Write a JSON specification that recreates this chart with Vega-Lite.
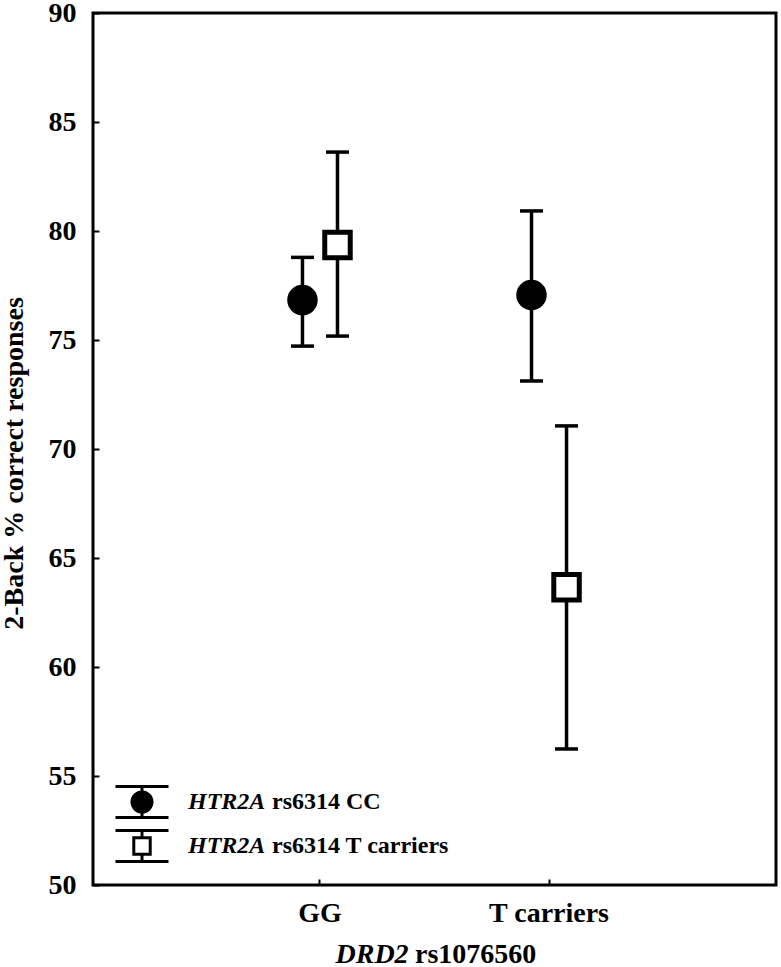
{
  "$schema": "https://vega.github.io/schema/vega-lite/v6.json",
  "width": 683,
  "height": 872,
  "autosize": "none",
  "padding": {"left": 93, "top": 13, "right": 5, "bottom": 82},
  "background": "white",
  "config": {
    "font": "Liberation Serif",
    "view": {"stroke": "black", "strokeWidth": 3},
    "axis": {
      "grid": false,
      "domain": false,
      "labelFont": "Liberation Serif",
      "labelFontSize": 28,
      "labelFontWeight": "bold",
      "labelColor": "black",
      "tickColor": "black",
      "tickWidth": 2,
      "tickSize": -6,
      "titleFont": "Liberation Serif",
      "titleFontSize": 28,
      "titleFontWeight": "bold",
      "titleColor": "black"
    }
  },
  "title": {
    "text": "rs1076560",
    "orient": "bottom",
    "anchor": "start",
    "frame": "group",
    "dx": 322,
    "dy": -5,
    "offset": 0,
    "baseline": "alphabetic",
    "font": "Liberation Serif",
    "fontSize": 28,
    "fontWeight": "bold",
    "color": "black"
  },
  "data": {
    "values": [
      {"DRD2": "GG", "HTR2A": "CC", "mean": 76.83, "lo": 74.72, "hi": 78.79},
      {"DRD2": "GG", "HTR2A": "T carriers", "mean": 79.36, "lo": 75.18, "hi": 83.62},
      {"DRD2": "T carriers", "HTR2A": "CC", "mean": 77.06, "lo": 73.12, "hi": 80.92},
      {"DRD2": "T carriers", "HTR2A": "T carriers", "mean": 63.66, "lo": 56.24, "hi": 71.06}
    ]
  },
  "encoding": {
    "x": {
      "field": "DRD2",
      "type": "nominal",
      "scale": {"domain": ["GG", "T carriers"], "paddingInner": 0, "paddingOuter": 0.491},
      "axis": {
        "title": "DRD2",
        "titleFontStyle": "italic",
        "labelAngle": 0,
        "labelPadding": 20,
        "titleX": 242,
        "titleY": 77,
        "titleAlign": "left",
        "titleBaseline": "alphabetic",
        "titleAnchor": null
      }
    },
    "xOffset": {
      "field": "HTR2A",
      "type": "nominal",
      "scale": {"domain": ["_a", "_b", "CC", "T carriers", "_c", "_d"], "paddingInner": 0, "paddingOuter": 0.27}
    }
  },
  "layer": [
    {
      "mark": {"type": "rule", "strokeWidth": 3.5, "color": "black"},
      "encoding": {
        "y": {
          "field": "lo",
          "type": "quantitative",
          "scale": {"domain": [50, 90], "nice": false, "zero": false},
          "axis": {
            "title": "2-Back % correct responses",
            "values": [50, 55, 60, 65, 70, 75, 80, 85, 90],
            "labelPadding": 23,
            "titleX": -71,
            "titleY": 450,
            "titleAngle": -90,
            "titleAlign": "center",
            "titleBaseline": "alphabetic",
            "titleAnchor": null
          }
        },
        "y2": {"field": "hi"}
      }
    },
    {
      "mark": {"type": "tick", "size": 23, "thickness": 3.5, "color": "black", "opacity": 1},
      "encoding": {"y": {"field": "lo", "type": "quantitative"}}
    },
    {
      "mark": {"type": "tick", "size": 23, "thickness": 3.5, "color": "black"},
      "encoding": {
        "y": {"field": "hi", "type": "quantitative"},
        "opacity": {
          "field": "HTR2A",
          "type": "nominal",
          "scale": {"range": [1, 1]},
          "legend": {
            "orient": "none",
            "legendX": 32,
            "legendY": 772,
            "title": null,
            "padding": 0,
            "labelExpr": "'rs6314 ' + datum.label",
            "labelFont": "Liberation Serif",
            "labelFontWeight": "bold",
            "labelFontSize": 24,
            "labelColor": "black",
            "labelOffset": 113,
            "labelLimit": 400,
            "symbolType": "M0,0",
            "symbolSize": 961,
            "symbolStrokeWidth": 3,
            "rowPadding": 15
          }
        }
      }
    },
    {
      "transform": [{"filter": "datum.HTR2A === 'CC'"}],
      "mark": {"type": "point", "shape": "circle", "size": 650, "filled": true, "fill": "black", "stroke": "black", "strokeWidth": 5, "opacity": 1},
      "encoding": {"y": {"field": "mean", "type": "quantitative"}}
    },
    {
      "transform": [{"filter": "datum.HTR2A === 'T carriers'"}],
      "mark": {"type": "point", "shape": "square", "size": 650, "filled": true, "fill": "white", "stroke": "black", "strokeWidth": 5, "opacity": 1},
      "encoding": {"y": {"field": "mean", "type": "quantitative"}}
    },
    {
      "transform": [{"filter": "false"}],
      "mark": {"type": "point", "strokeWidth": 3, "opacity": 1},
      "encoding": {
        "y": {"field": "mean", "type": "quantitative"},
        "stroke": {
          "field": "HTR2A",
          "type": "nominal",
          "scale": {"domain": ["CC", "T carriers"], "range": ["black", "black"]},
          "legend": {
            "orient": "none",
            "legendX": 32,
            "legendY": 772,
            "title": null,
            "padding": 0,
            "labelExpr": "'HTR2A'",
            "labelFont": "Liberation Serif",
            "labelFontStyle": "italic",
            "labelFontWeight": "bold",
            "labelFontSize": 24,
            "labelColor": "black",
            "labelOffset": 29,
            "labelLimit": 400,
            "symbolSize": 961,
            "symbolStrokeWidth": 3,
            "rowPadding": 0
          }
        },
        "fill": {
          "field": "HTR2A",
          "type": "nominal",
          "scale": {"domain": ["CC", "T carriers"], "range": ["black", "white"]},
          "legend": {
            "orient": "none",
            "legendX": 32,
            "legendY": 772,
            "title": null,
            "padding": 0,
            "labelExpr": "'HTR2A'",
            "labelFont": "Liberation Serif",
            "labelFontStyle": "italic",
            "labelFontWeight": "bold",
            "labelFontSize": 24,
            "labelColor": "black",
            "labelOffset": 29,
            "labelLimit": 400,
            "symbolSize": 961,
            "symbolStrokeWidth": 3,
            "rowPadding": 0
          }
        },
        "shape": {
          "field": "HTR2A",
          "type": "nominal",
          "scale": {
            "domain": ["CC", "T carriers"],
            "range": [
              "M-1.71,-1H1.71M-1.71,1H1.71M0,-1V1M0.645,0A0.645,0.645,0,1,1,-0.645,0A0.645,0.645,0,1,1,0.645,0Z",
              "M-1.71,-1H1.71M-1.71,1H1.71M0,-1V-0.53M0,0.53V1M-0.53,-0.53H0.53V0.53H-0.53Z"
            ]
          },
          "legend": {
            "orient": "none",
            "legendX": 32,
            "legendY": 772,
            "title": null,
            "padding": 0,
            "labelExpr": "'HTR2A'",
            "labelFont": "Liberation Serif",
            "labelFontStyle": "italic",
            "labelFontWeight": "bold",
            "labelFontSize": 24,
            "labelColor": "black",
            "labelOffset": 29,
            "labelLimit": 400,
            "symbolSize": 961,
            "symbolStrokeWidth": 3,
            "rowPadding": 0
          }
        }
      }
    }
  ]
}
